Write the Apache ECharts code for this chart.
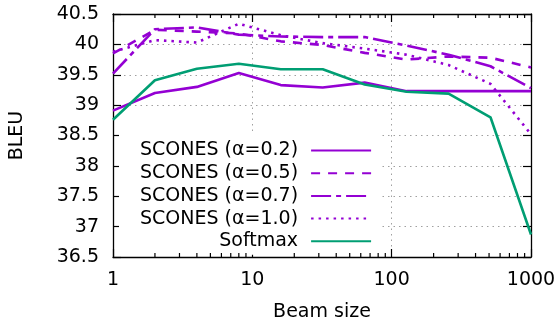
<!DOCTYPE html>
<html>
<head>
<meta charset="utf-8">
<script src="https://cdn.jsdelivr.net/npm/echarts@6/dist/echarts.min.js"></script>
<style>
  html, body { margin: 0; padding: 0; background: #fff; }
  #chart { width: 560px; height: 327px; }
</style>
</head>
<body>
<div id="chart"></div>
<script>
var beamSizes = [1, 2, 4, 8, 16, 32, 64, 128, 256, 512, 1000];
var scones02 = [38.91, 39.20, 39.30, 39.53, 39.33, 39.29, 39.37, 39.23, 39.23, 39.23, 39.23];
var scones05 = [39.85, 40.24, 40.21, 40.18, 40.05, 39.99, 39.86, 39.75, 39.80, 39.78, 39.62];
var scones07 = [39.52, 40.25, 40.28, 40.16, 40.13, 40.12, 40.12, 39.98, 39.83, 39.64, 39.28];
var scones10 = [39.88, 40.07, 40.03, 40.34, 40.15, 40.02, 39.93, 39.83, 39.66, 39.35, 38.52];
var softmax = [38.76, 39.41, 39.60, 39.68, 39.59, 39.59, 39.34, 39.22, 39.19, 38.80, 36.87];
var seriesNames = ['SCONES (α=0.2)', 'SCONES (α=0.5)', 'SCONES (α=0.7)', 'SCONES (α=1.0)', 'Softmax'];
var minorTicks = [2, 3, 4, 5, 6, 7, 8, 9, 20, 30, 40, 50, 60, 70, 80, 90, 200, 300, 400, 500, 600, 700, 800, 900];

var yMin = 36.5, yMax = 40.5;
var FONT = 'DejaVu Sans';
var FS = 19;
var PURPLE = '#9400d3', GREEN = '#009e73';

function pairs(vals) {
  return beamSizes.map(function(b, i) { return [b, vals[i]]; });
}

function lineSeries(name, vals, color, dash) {
  return {
    name: name,
    type: 'line',
    data: pairs(vals),
    symbol: 'none',
    color: color,
    lineStyle: { color: color, width: 2.6, type: dash, cap: 'butt' },
    z: 3
  };
}

var gridLine = { show: true, lineStyle: { color: '#a0a0a0', width: 1, type: [1.5, 4] } };
var tickStyle = { color: '#000', width: 1.2 };
var borderStyle = { color: '#000', width: 1.3 };

var chart = echarts.init(document.getElementById('chart'));
chart.setOption({
  animation: false,
  backgroundColor: '#fff',
  textStyle: { fontFamily: FONT, color: '#000' },
  grid: { left: 112, right: 29, top: 14, bottom: 67.5 },
  xAxis: [
    {
      type: 'log', logBase: 10, min: 1, max: 1000,
      name: 'Beam size', nameLocation: 'middle', nameGap: 46,
      nameTextStyle: { fontFamily: FONT, fontSize: FS, color: '#000' },
      axisLine: { lineStyle: borderStyle },
      axisTick: { inside: true, length: 8, lineStyle: tickStyle },
      axisLabel: {
        fontFamily: FONT, fontSize: FS, color: '#000', margin: 14,
        formatter: function(v) { return String(Math.round(v)); }
      },
      splitLine: gridLine
    },
    {
      type: 'log', logBase: 10, min: 1, max: 1000, position: 'top',
      axisLine: { lineStyle: borderStyle },
      axisTick: { inside: true, length: 8, lineStyle: tickStyle },
      axisLabel: { show: false },
      splitLine: { show: false }
    }
  ],
  yAxis: [
    {
      type: 'value', min: yMin, max: yMax, interval: 0.5,
      name: 'BLEU', nameLocation: 'middle', nameGap: 86, nameRotate: 90,
      nameTextStyle: { fontFamily: FONT, fontSize: FS, color: '#000' },
      axisLine: { show: true, lineStyle: borderStyle },
      axisTick: { show: true, inside: true, length: 8, lineStyle: tickStyle },
      axisLabel: { fontFamily: FONT, fontSize: FS, color: '#000', margin: 14 },
      splitLine: gridLine
    },
    {
      type: 'value', min: yMin, max: yMax, interval: 0.5, position: 'right',
      axisLine: { show: true, lineStyle: borderStyle },
      axisTick: { show: true, inside: true, length: 8, lineStyle: tickStyle },
      axisLabel: { show: false },
      splitLine: { show: false }
    }
  ],
  legend: {
    data: seriesNames,
    orient: 'vertical',
    align: 'right',
    left: 119, top: 133,
    padding: [8, 8, 4, 21],
    backgroundColor: '#fff',
    itemWidth: 60, itemHeight: 14, itemGap: 3.7,
    itemStyle: { opacity: 0 },
    formatter: function(name) { return '{t|' + name + '}'; },
    textStyle: {
      fontFamily: FONT, fontSize: FS, color: '#000',
      rich: { t: { fontFamily: FONT, fontSize: FS, color: '#000', width: 175, align: 'right', padding: [0, 8, 0, 0] } }
    },
    z: 2
  },
  series: [
    lineSeries(seriesNames[0], scones02, PURPLE, 'solid'),
    lineSeries(seriesNames[1], scones05, PURPLE, [9, 8]),
    lineSeries(seriesNames[2], scones07, PURPLE, [20, 5, 5, 5]),
    lineSeries(seriesNames[3], scones10, PURPLE, [2.5, 5]),
    lineSeries(seriesNames[4], softmax, GREEN, 'solid'),
    {
      // gnuplot-style minor ticks on bottom and top borders
      type: 'custom',
      silent: true,
      clip: false,
      data: minorTicks.map(function(v) { return [v, yMin]; }),
      renderItem: function(params, api) {
        var b = api.coord([api.value(0), yMin]);
        var t = api.coord([api.value(0), yMax]);
        var st = { stroke: '#000', lineWidth: 1.2 };
        return {
          type: 'group',
          children: [
            { type: 'line', shape: { x1: b[0], y1: b[1], x2: b[0], y2: b[1] - 4 }, style: st },
            { type: 'line', shape: { x1: t[0], y1: t[1], x2: t[0], y2: t[1] + 4 }, style: st }
          ]
        };
      },
      z: 4
    }
  ]
});
</script>
</body>
</html>
